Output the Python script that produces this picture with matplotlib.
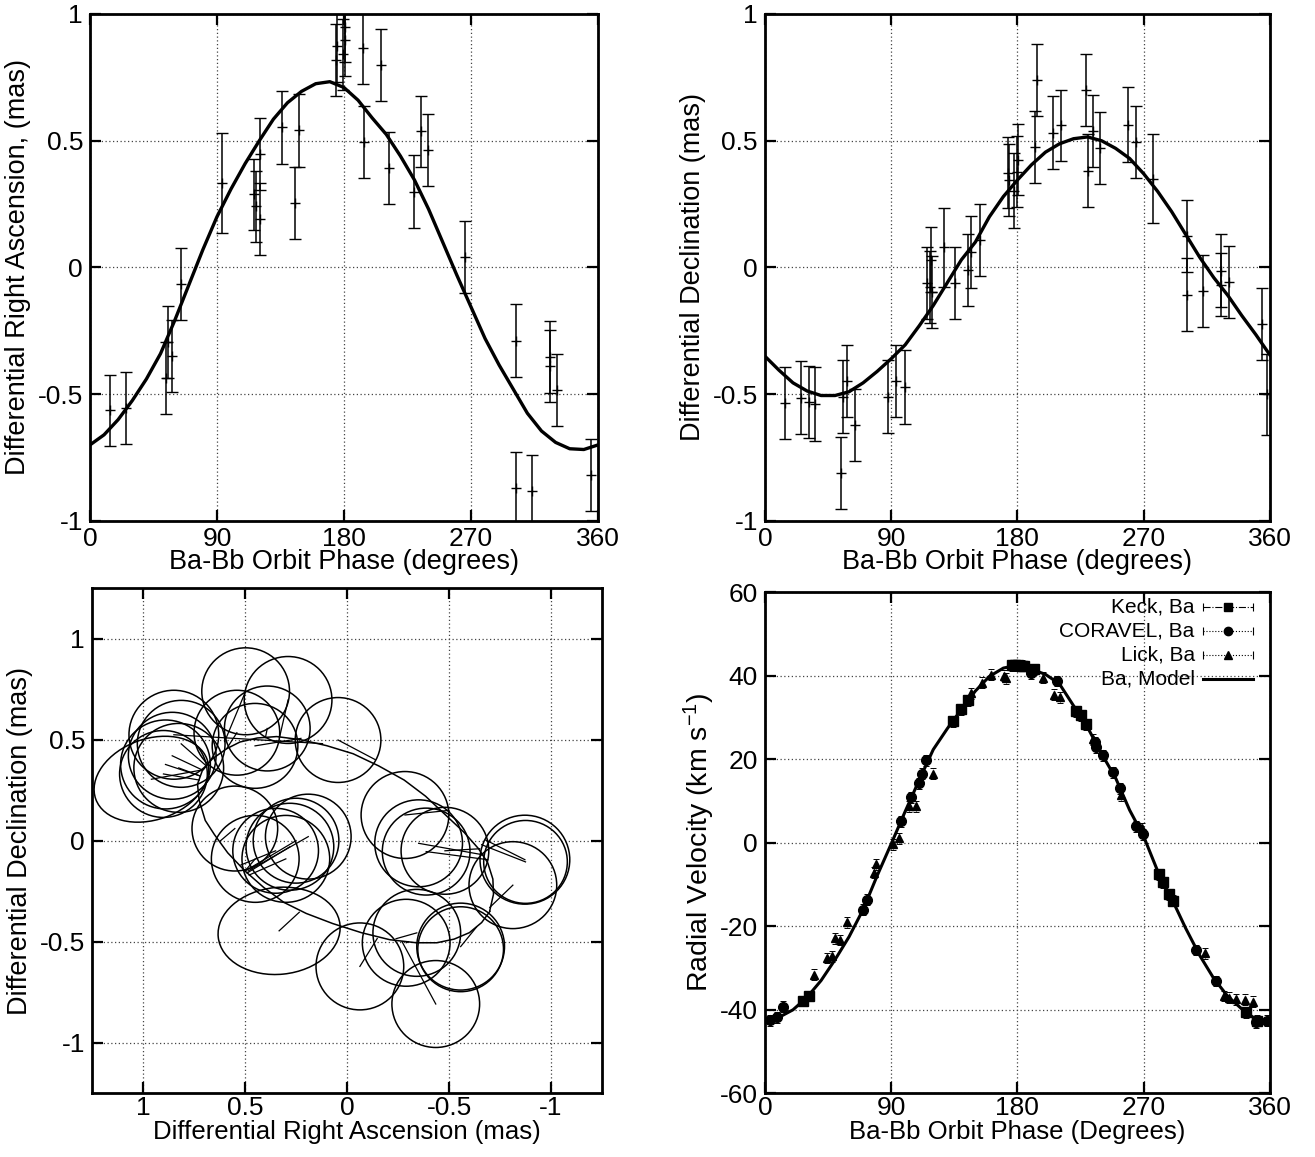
import matplotlib
matplotlib.use('Agg')
import matplotlib.pyplot as plt
from matplotlib.patches import Ellipse

plt.rcParams['font.family'] = ['Liberation Sans', 'DejaVu Sans']
plt.rcParams['axes.unicode_minus'] = False
plt.rcParams['mathtext.default'] = 'regular'

model_phase = [0, 10, 20, 30, 40, 50, 60, 70, 80, 90, 100, 110, 120, 130, 140, 150,
               160, 170, 180, 190, 200, 210, 220, 230, 240, 250, 260, 270, 280, 290,
               300, 310, 320, 330, 340, 350, 360]
model_ra = [-0.70, -0.66, -0.60, -0.525, -0.44, -0.34, -0.21, -0.07, 0.07, 0.20, 0.31,
            0.41, 0.50, 0.585, 0.65, 0.695, 0.725, 0.733, 0.71, 0.66, 0.59, 0.525, 0.44,
            0.345, 0.23, 0.10, -0.03, -0.155, -0.28, -0.385, -0.48, -0.575, -0.645,
            -0.69, -0.715, -0.718, -0.70]
model_dec = [-0.35, -0.405, -0.455, -0.487, -0.505, -0.505, -0.49, -0.455, -0.41, -0.36,
             -0.305, -0.23, -0.15, -0.06, 0.03, 0.10, 0.20, 0.28, 0.345, 0.405, 0.455,
             0.488, 0.508, 0.515, 0.50, 0.47, 0.43, 0.37, 0.30, 0.22, 0.13, 0.04, -0.04,
             -0.11, -0.19, -0.265, -0.345]
model_rv = [-42.8, -41.8, -40.0, -37.0, -33.0, -28.0, -22.5, -16.0, -7.9, -0.3, 7.5, 15.0,
            22.3, 27.3, 31.9, 36.3, 39.8, 41.8, 42.5, 41.5, 40.3, 38.0, 32.8, 27.6, 21.3,
            15.5, 7.8, 1.5, -6.8, -13.4, -20.5, -27.0, -32.5, -36.8, -39.8, -42.3, -42.8]

# ---- differential right ascension (mas) ----
ra_phase = [14.4, 25.7, 53.6, 55.6, 58.3, 64.2, 93.5, 116.3, 118.0, 120.2, 120.2, 135.9,
            145.3, 147.9, 174.7, 175.2, 179.4, 180.5, 181.0, 193.5, 194.5, 206.4, 212.0,
            229.7, 234.4, 239.5, 265.5, 301.7, 302.2, 313.0, 325.8, 325.8, 331.1, 355.1]
ra_val = [-0.564, -0.554, -0.436, -0.293, -0.349, -0.066, 0.332, 0.288, 0.242, 0.447,
          0.192, 0.553, 0.255, 0.541, 0.817, 0.874, 0.841, 0.95, 0.897, 0.864, 0.496,
          0.799, 0.393, 0.299, 0.538, 0.462, 0.042, -0.868, -0.288, -0.882, -0.353,
          -0.389, -0.484, -0.818]
ra_err = [0.141, 0.141, 0.143, 0.142, 0.141, 0.142, 0.197, 0.14, 0.14, 0.143, 0.141,
          0.143, 0.142, 0.143, 0.142, 0.142, 0.14, 0.14, 0.142, 0.14, 0.143, 0.141, 0.142,
          0.143, 0.14, 0.142, 0.142, 0.141, 0.143, 0.141, 0.142, 0.142, 0.141, 0.141]

# ---- differential declination (mas) ----
dec_phase = [14.6, 26.0, 31.2, 35.9, 54.1, 56.0, 58.8, 64.3, 87.6, 93.1, 99.5, 115.7,
             117.6, 118.5, 119.2, 127.6, 135.7, 145.0, 146.7, 153.1, 173.6, 174.3, 177.6,
             180.0, 180.7, 192.8, 194.2, 205.6, 211.3, 229.0, 230.0, 233.8, 238.7, 259.1,
             264.8, 276.4, 301.1, 301.1, 312.3, 324.8, 324.8, 330.5, 354.3, 358.0]
dec_val = [-0.534, -0.513, -0.530, -0.539, -0.811, -0.509, -0.447, -0.622, -0.509, -0.447,
           -0.471, -0.062, -0.078, 0.03, -0.097, 0.079, -0.062, -0.009, 0.061, 0.109, 0.374,
           0.345, 0.303, 0.378, 0.426, 0.475, 0.738, 0.532, 0.561, 0.701, 0.382, 0.538,
           0.472, 0.564, 0.497, 0.351, 0.124, -0.107, -0.092, -0.0125, -0.068, -0.057,
           -0.221, -0.50]
dec_err = [0.143, 0.143, 0.143, 0.146, 0.142, 0.143, 0.141, 0.142, 0.143, 0.143, 0.145,
           0.142, 0.142, 0.128, 0.143, 0.157, 0.142, 0.142, 0.142, 0.142, 0.141, 0.142,
           0.147, 0.141, 0.141, 0.143, 0.142, 0.143, 0.141, 0.142, 0.143, 0.142, 0.143,
           0.147, 0.142, 0.174, 0.142, 0.143, 0.142, 0.143, 0.124, 0.142, 0.142, 0.16]

# ---- sky-plane error ellipses (mas) and the model positions they join ----
sky_ra = [0.849, 0.813, 0.857, 0.89, 0.825, 0.959, 0.90, 0.497, 0.289, 0.54, 0.451, 0.391,
          0.044, 0.55, 0.45, 0.28, 0.25, 0.19, 0.35, 0.30, -0.284, -0.351, -0.388, -0.48,
          -0.872, -0.875, -0.813, 0.333, -0.063, -0.29, -0.342, -0.557, -0.557, -0.435]
sky_dec = [0.524, 0.479, 0.42, 0.377, 0.36, 0.304, 0.33, 0.739, 0.696, 0.534, 0.469, 0.555,
           0.498, 0.06, -0.09, -0.03, 0.0, 0.02, -0.05, -0.09, 0.127, -0.013, -0.054, -0.05,
           -0.094, -0.105, -0.22, -0.446, -0.622, -0.505, -0.456, -0.524, -0.537, -0.808]
sky_w = [0.44, 0.43, 0.43, 0.44, 0.44, 0.58, 0.43, 0.43, 0.43, 0.42, 0.42, 0.42, 0.42,
         0.42, 0.43, 0.43, 0.42, 0.42, 0.42, 0.43, 0.43, 0.43, 0.43, 0.43, 0.44, 0.41,
         0.43, 0.60, 0.43, 0.43, 0.43, 0.43, 0.42, 0.43]
sky_h = [0.44, 0.43, 0.43, 0.44, 0.44, 0.40, 0.43, 0.43, 0.43, 0.42, 0.42, 0.42, 0.42,
         0.42, 0.43, 0.43, 0.42, 0.42, 0.42, 0.43, 0.43, 0.43, 0.43, 0.43, 0.44, 0.41,
         0.43, 0.43, 0.43, 0.43, 0.43, 0.43, 0.42, 0.43]
sky_ang = [0, 0, 0, 0, 0, -20, 0, 0, 0, 0, 0, 0, 0, 0, 0, 0, 0, 0, 0, 0, 0, 0, 0, 0, 0, 0,
           0, -6, 0, 0, 0, 0, 0, 0]
sky_ra_mod = [0.12, 0.69, 0.71, 0.72, 0.72, 0.71, 0.725, 0.60, 0.33, 0.59, 0.226, 0.40,
              -0.14, 0.62, 0.50, 0.49, 0.50, 0.485, 0.52, 0.48, -0.50, -0.667, -0.69,
              -0.65, -0.68, -0.66, -0.70, 0.234, -0.148, -0.30, -0.24, -0.635, -0.557,
              -0.27]
sky_dec_mod = [0.48, 0.37, 0.35, 0.32, 0.32, 0.35, 0.30, 0.49, 0.515, 0.455, 0.506, 0.51,
               0.40, 0.0, -0.15, -0.16, -0.15, -0.15, -0.12, -0.17, 0.15, -0.07, -0.094,
               -0.04, 0.003, -0.02, -0.33, -0.354, -0.484, -0.50, -0.485, -0.427, -0.537,
               -0.50]

# ---- radial velocities (km/s) ----
keck_phase = [27.4, 31.7, 134.0, 140.0, 144.5, 176.0, 178.0, 180.5, 183.0, 185.0, 191.5,
              222.0, 225.0, 229.0, 281.0, 283.5, 288.0, 291.0, 343.0, 351.0]
keck_rv = [-37.9, -36.7, 29.1, 31.9, 34.1, 42.5, 42.5, 42.5, 42.4, 42.3, 41.5, 31.5, 30.5,
           28.3, -7.6, -9.5, -12.3, -13.9, -40.6, -42.6]
coravel_phase = [3.5, 8.5, 13.0, 69.9, 72.5, 97.0, 104.0, 110.0, 112.0, 114.8, 190.0,
                 208.0, 235.0, 236.0, 240.8, 248.3, 253.0, 264.8, 269.5, 307.3, 321.4,
                 350.0, 358.0]
coravel_rv = [-42.5, -41.8, -39.3, -16.0, -13.6, 5.1, 10.9, 14.2, 16.5, 19.7, 40.6, 38.7,
              24.0, 22.8, 20.9, 16.9, 13.0, 3.9, 2.0, -25.7, -33.1, -43.0, -42.6]
lick_phase = [35.0, 44.0, 47.5, 50.0, 53.4, 58.5, 77.5, 78.9, 91.2, 95.9, 103.0, 107.7,
              119.5, 146.7, 155.0, 161.0, 170.3, 172.0, 197.9, 206.4, 210.4, 234.0, 254.0,
              269.0, 313.7, 327.0, 330.5, 335.6, 342.6, 348.0]
lick_rv = [-31.6, -27.6, -27.2, -22.9, -23.3, -19.0, -7.2, -5.2, -0.4, 1.1, 8.7, 8.7, 16.5,
           35.8, 38.3, 40.2, 40.0, 39.4, 39.5, 35.4, 34.8, 24.8, 11.4, 3.5, -26.5, -36.7,
           -37.1, -37.5, -37.6, -38.1]
rv_err = 1.3

phase_ticks = [0, 90, 180, 270, 360]
mas_ticks = [-1, -0.5, 0, 0.5, 1]
mas_labels = ['-1', '-0.5', '0', '0.5', '1']
rv_ticks = [-60, -40, -20, 0, 20, 40, 60]

FS = 19
LFS = 19.5


def style(ax, xpad=4):
    ax.grid(True, linestyle=(0, (1, 2)), linewidth=0.9, color='#444444')
    ax.set_axisbelow(True)
    ax.tick_params(direction='in', length=8, width=1.6, top=True, right=True,
                   labelsize=FS)
    ax.tick_params(axis='x', pad=xpad)
    ax.tick_params(axis='y', pad=5)
    for s in ax.spines.values():
        s.set_linewidth(2.0)


fig = plt.figure(figsize=(13.15, 11.57), dpi=100)

# top left: right ascension vs phase
ax1 = fig.add_axes([0.0684, 0.5497, 0.3863, 0.4382])
ax1.errorbar(ra_phase, ra_val, yerr=ra_err, fmt='+', color='black', ms=7, mew=1.0,
             elinewidth=1.1, capsize=4, capthick=1.1)
ax1.plot(model_phase, model_ra, color='black', lw=2.4)
ax1.set_xlim(0, 360)
ax1.set_ylim(-1, 1)
ax1.set_xticks(phase_ticks)
ax1.set_yticks(mas_ticks)
ax1.set_yticklabels(mas_labels)
ax1.set_xlabel('Ba-Bb Orbit Phase (degrees)', fontsize=LFS, labelpad=-1)
ax1.set_ylabel('Differential Right Ascension, (mas)', fontsize=LFS, labelpad=5)
style(ax1)

# top right: declination vs phase
ax2 = fig.add_axes([0.5817, 0.5497, 0.384, 0.4382])
ax2.errorbar(dec_phase, dec_val, yerr=dec_err, fmt='+', color='black', ms=7, mew=1.0,
             elinewidth=1.1, capsize=4, capthick=1.1)
ax2.plot(model_phase, model_dec, color='black', lw=2.4)
ax2.set_xlim(0, 360)
ax2.set_ylim(-1, 1)
ax2.set_xticks(phase_ticks)
ax2.set_yticks(mas_ticks)
ax2.set_yticklabels(mas_labels)
ax2.set_xlabel('Ba-Bb Orbit Phase (degrees)', fontsize=LFS, labelpad=-1)
ax2.set_ylabel('Differential Declination (mas)', fontsize=LFS, labelpad=5)
style(ax2)

# bottom left: sky plane
ax3 = fig.add_axes([0.07, 0.055, 0.3878, 0.4368])
for x, y, w, h, a in zip(sky_ra, sky_dec, sky_w, sky_h, sky_ang):
    ax3.add_patch(Ellipse((x, y), w, h, angle=a, fill=False, ec='black', lw=1.1))
for x0, y0, x1, y1 in zip(sky_ra, sky_dec, sky_ra_mod, sky_dec_mod):
    ax3.plot([x0, x1], [y0, y1], color='black', lw=0.9)
ax3.plot(model_ra, model_dec, color='black', lw=1.1)
ax3.set_xlim(1.25, -1.25)
ax3.set_ylim(-1.25, 1.25)
ax3.set_xticks(mas_ticks)
ax3.set_xticklabels(mas_labels)
ax3.set_yticks(mas_ticks)
ax3.set_yticklabels(mas_labels)
ax3.set_xlabel('Differential Right Ascension (mas)', fontsize=18.5, labelpad=0)
ax3.set_ylabel('Differential Declination (mas)', fontsize=LFS, labelpad=5)
style(ax3, xpad=2)

# bottom right: radial velocity
ax4 = fig.add_axes([0.5817, 0.055, 0.384, 0.4333])
eb_kw = dict(color='black', elinewidth=0.7, capsize=2.5, capthick=0.7, linestyle='none')
for ph, rv, mk, ms in [(keck_phase, keck_rv, 's', 7), (coravel_phase, coravel_rv, 'o', 7),
                       (lick_phase, lick_rv, '^', 6)]:
    eb = ax4.errorbar(ph, rv, yerr=rv_err, marker=mk, ms=ms, **eb_kw)
    eb[2][0].set_linestyle(':')
ax4.plot(model_phase, model_rv, color='black', lw=2.2)
ax4.set_xlim(0, 360)
ax4.set_ylim(-60, 60)
ax4.set_xticks(phase_ticks)
ax4.set_yticks(rv_ticks)
ax4.set_xlabel('Ba-Bb Orbit Phase (Degrees)', fontsize=18.5, labelpad=0)
ax4.set_ylabel('Radial Velocity (km s$^{-1}$)', fontsize=20.5, labelpad=2)
style(ax4, xpad=2)

# legend drawn by hand, gnuplot-style (text right aligned, sample on the right)
leg_names = ['Keck, Ba', 'CORAVEL, Ba', 'Lick, Ba', 'Ba, Model']
leg_marks = ['s', 'o', '^', None]
leg_styles = ['-.', ':', ':', '-']
leg_y = [0.970, 0.922, 0.874, 0.826]
for name, mk, lsty, yy in zip(leg_names, leg_marks, leg_styles, leg_y):
    ax4.text(0.851, yy, name, transform=ax4.transAxes, ha='right', va='center',
             fontsize=15)
    if mk is None:
        ax4.plot([0.867, 0.966], [yy, yy], transform=ax4.transAxes, color='black',
                 lw=2.2, clip_on=False)
    else:
        ax4.plot([0.867, 0.966], [yy, yy], transform=ax4.transAxes, color='black',
                 lw=0.8, ls=lsty, clip_on=False)
        ax4.plot([0.867, 0.966], [yy, yy], transform=ax4.transAxes, color='black',
                 lw=0, marker='|', ms=6, mew=0.8, clip_on=False)
        ax4.plot([0.9165], [yy], transform=ax4.transAxes, color='black', marker=mk,
                 ms=6, clip_on=False)

fig.savefig('out.png', dpi=100)
